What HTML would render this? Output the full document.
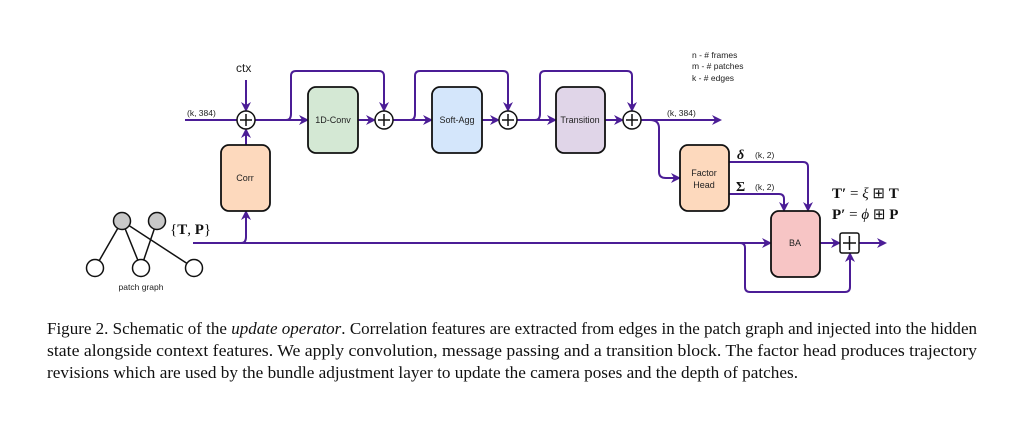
<!DOCTYPE html>
<html><head><style>
body{margin:0;background:#fff;width:1017px;height:424px;overflow:hidden}
</style></head><body>
<svg width="1017" height="424" style="position:absolute;left:0;top:0" font-family="Liberation Sans, sans-serif">
<defs><marker id="a" markerWidth="10" markerHeight="10" refX="8" refY="5" orient="auto" markerUnits="userSpaceOnUse"><path d="M0,0 L10,5 L0,10 L3,5z" fill="#4b1d96"/></marker></defs>
<g stroke="#4b1d96" stroke-width="2" fill="none">
<line x1="185" y1="120" x2="237" y2="120"/>
<line x1="246" y1="80" x2="246" y2="110" marker-end="url(#a)"/>
<line x1="246" y1="145" x2="246" y2="130" marker-end="url(#a)"/>
<line x1="255" y1="120" x2="307" y2="120" marker-end="url(#a)"/>
<path d="M286,120 Q291,120 291,114 V76 Q291,71 296,71 H379 Q384,71 384,76 V110" marker-end="url(#a)"/>
<line x1="358" y1="120" x2="374" y2="120" marker-end="url(#a)"/>
<line x1="393" y1="120" x2="431" y2="120" marker-end="url(#a)"/>
<path d="M410,120 Q415,120 415,114 V76 Q415,71 420,71 H503 Q508,71 508,76 V110" marker-end="url(#a)"/>
<line x1="482" y1="120" x2="498" y2="120" marker-end="url(#a)"/>
<line x1="517" y1="120" x2="555" y2="120" marker-end="url(#a)"/>
<path d="M535,120 Q540,120 540,114 V76 Q540,71 545,71 H627 Q632,71 632,76 V110" marker-end="url(#a)"/>
<line x1="605" y1="120" x2="622" y2="120" marker-end="url(#a)"/>
<line x1="641" y1="120" x2="720" y2="120" marker-end="url(#a)"/>
<path d="M650,120 Q659,120 659,128 V172 Q659,178 666,178 H679" marker-end="url(#a)"/>
<path d="M729,162 H803 Q808,162 808,167 V210" marker-end="url(#a)"/>
<path d="M729,194 H779 Q784,194 784,199 V210" marker-end="url(#a)"/>
<line x1="193" y1="243" x2="770" y2="243" marker-end="url(#a)"/>
<path d="M241,243 Q246,243 246,237 V212" marker-end="url(#a)"/>
<path d="M740,243 Q745,243 745,248 V287 Q745,292 750,292 H845 Q850,292 850,287 V254" marker-end="url(#a)"/>
<line x1="820" y1="243" x2="839" y2="243" marker-end="url(#a)"/>
<line x1="859" y1="243" x2="885" y2="243" marker-end="url(#a)"/>
</g>
<g stroke="#111" stroke-width="1.5">
<circle cx="246" cy="120" r="9" fill="#fff"/><path d="M240,120h12M246,114v12"/>
<circle cx="384" cy="120" r="9" fill="#fff"/><path d="M378,120h12M384,114v12"/>
<circle cx="508" cy="120" r="9" fill="#fff"/><path d="M502,120h12M508,114v12"/>
<circle cx="632" cy="120" r="9" fill="#fff"/><path d="M626,120h12M632,114v12"/>
<rect x="840" y="233" width="19" height="20" rx="2" fill="#fff"/><path d="M843,243h13M849.5,236v14"/>
</g>
<g stroke="#111" stroke-width="1.8">
<rect x="308" y="87" width="50" height="66" rx="8" fill="#d4e8d4"/>
<rect x="432" y="87" width="50" height="66" rx="8" fill="#d4e6fb"/>
<rect x="556" y="87" width="49" height="66" rx="8" fill="#e0d5e8"/>
<rect x="221" y="145" width="49" height="66" rx="8" fill="#fdd9bd"/>
<rect x="680" y="145" width="49" height="66" rx="8" fill="#fdd9bd"/>
<rect x="771" y="211" width="49" height="66" rx="8" fill="#f7c5c5"/>
</g>
<g font-size="9" fill="#222" text-anchor="middle">
<text x="333" y="123">1D-Conv</text><text x="457" y="123">Soft-Agg</text><text x="580" y="123">Transition</text>
<text x="245" y="181">Corr</text><text x="704" y="176">Factor</text><text x="704" y="188">Head</text>
<text x="795" y="246">BA</text><text x="141" y="290" font-size="8.5">patch graph</text>
</g>
<g font-size="8.5" fill="#222">
<text x="187" y="116">(k, 384)</text><text x="667" y="116">(k, 384)</text>
<text x="755" y="158">(k, 2)</text><text x="755" y="190">(k, 2)</text>
<text x="692" y="58">n -  # frames</text><text x="692" y="69">m - # patches</text><text x="692" y="81">k -  # edges</text>
</g>
<text x="236" y="72" font-size="12" fill="#222">ctx</text>
<g font-family="Liberation Serif, serif" fill="#111">
<text x="737" y="159" font-size="14" font-style="italic" font-weight="bold">δ</text>
<text x="736" y="191" font-size="14" font-weight="bold">Σ</text>
<text x="832" y="198" font-size="15"><tspan font-weight="bold">T′</tspan> = <tspan font-style="italic">ξ</tspan> ⊞ <tspan font-weight="bold">T</tspan></text>
<text x="832" y="219" font-size="15"><tspan font-weight="bold">P′</tspan> = <tspan font-style="italic">ϕ</tspan> ⊞ <tspan font-weight="bold">P</tspan></text>
<text x="170" y="234" font-size="15">{<tspan font-weight="bold">T</tspan>, <tspan font-weight="bold">P</tspan>}</text>
</g>
<g stroke="#111" stroke-width="1.5">
<path d="M122,221L95,268M122,221L141,268M122,221L194,268M157,221L141,268"/>
<circle cx="122" cy="221" r="8.5" fill="#c8c8c8"/><circle cx="157" cy="221" r="8.5" fill="#c8c8c8"/>
<circle cx="95" cy="268" r="8.5" fill="#fff"/><circle cx="141" cy="268" r="8.5" fill="#fff"/><circle cx="194" cy="268" r="8.5" fill="#fff"/>
</g>
<g font-family="Liberation Serif, serif" font-size="16.5" fill="#111">
<text x="47" y="334" textLength="930" lengthAdjust="spacingAndGlyphs">Figure 2. Schematic of the <tspan font-style="italic">update operator</tspan>. Correlation features are extracted from edges in the patch graph and injected into the hidden</text>
<text x="47" y="356" textLength="930" lengthAdjust="spacingAndGlyphs">state alongside context features.  We apply convolution, message passing and a transition block.  The factor head produces trajectory</text>
<text x="47" y="378" textLength="751" lengthAdjust="spacingAndGlyphs">revisions which are used by the bundle adjustment layer to update the camera poses and the depth of patches.</text>
</g>
</svg>
</body></html>
